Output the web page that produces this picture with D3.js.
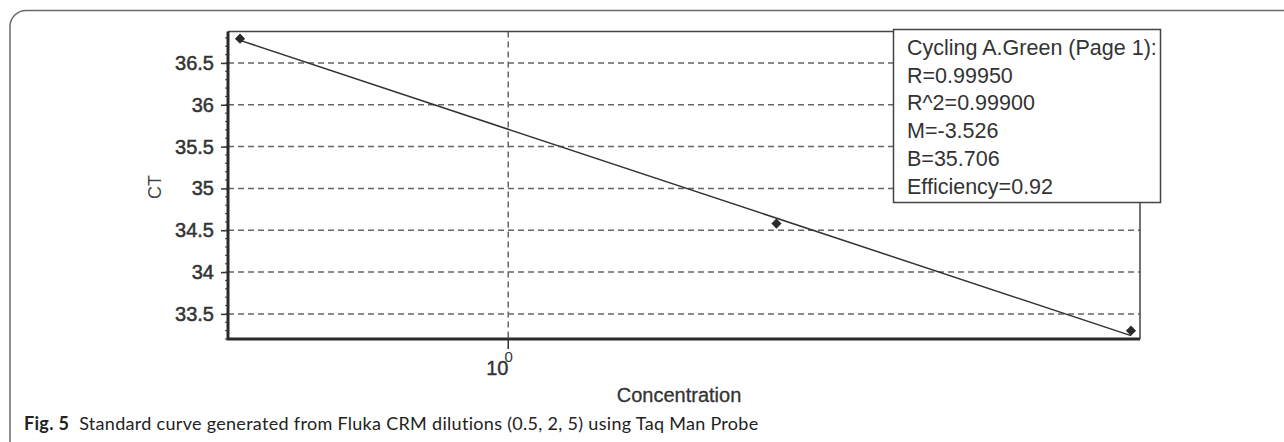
<!DOCTYPE html>
<html>
<head>
<meta charset="utf-8">
<script src="https://cdn.jsdelivr.net/npm/d3@7"></script>
<style>
  body { margin: 0; background: #fff; }
  svg { display: block; }
  text { font-family: "Liberation Sans", Arial, sans-serif; }
</style>
</head>
<body>
<svg width="1284" height="442"></svg>
<script>
// Standard curve points (concentration vs CT)
const concentrations = [0.5, 2, 5];
const ctValues = [36.79, 34.58, 33.30];

// Fitted line end points
const fitConc = [0.5, 5];
const fitCt = [36.77, 33.24];

// Axis ticks
const yTicks = [33.5, 34, 34.5, 35, 35.5, 36, 36.5];
const yMinorTicks = d3.range(332, 369).map(d => d / 10);
const xTicks = [1];

// Legend text
const legendLines = ["Cycling A.Green (Page 1):", "R=0.99950", "R^2=0.99900", "M=-3.526", "B=35.706", "Efficiency=0.92"];

let svg = d3.select("svg");

// Plot area
let plotLeft = 228, plotRight = 1140, plotTop = 31.5, plotBottom = 339;

let x = d3.scaleLog().domain([0.4847, 5.118]).range([plotLeft, plotRight]);
let y = d3.scaleLinear().domain([33.2, 36.876]).range([plotBottom, plotTop]);

// Outer frame with rounded top-left corner
svg.append("path")
    .attr("d", "M10,442 V26 A16,16 0 0 1 26,10.5 H1284")
    .attr("fill", "none")
    .attr("stroke", "#6a6a6a")
    .attr("stroke-width", 1.5);

// Horizontal dashed grid lines
svg.append("g")
    .selectAll("line")
    .data(yTicks)
    .enter().append("line")
    .attr("x1", plotLeft)
    .attr("x2", plotRight)
    .attr("y1", d => y(d))
    .attr("y2", d => y(d))
    .attr("stroke", "#666")
    .attr("stroke-width", 1.5)
    .attr("stroke-dasharray", "6,4");

// Vertical dashed grid line at 10^0
svg.append("g")
    .selectAll("line")
    .data(xTicks)
    .enter().append("line")
    .attr("x1", d => x(d))
    .attr("x2", d => x(d))
    .attr("y1", plotTop)
    .attr("y2", plotBottom)
    .attr("stroke", "#666")
    .attr("stroke-width", 1.5)
    .attr("stroke-dasharray", "6,4");

// Thin top and right border
svg.append("path")
    .attr("d", `M${plotLeft},${plotTop} H${plotRight} V${plotBottom}`)
    .attr("fill", "none")
    .attr("stroke", "#444")
    .attr("stroke-width", 1.5);

// Y axis with major ticks
let yAxis = svg.append("g")
    .attr("transform", `translate(${plotLeft},0)`)
    .call(d3.axisLeft(y).tickValues(yTicks).tickSize(7).tickPadding(7).tickFormat(d3.format("")));
yAxis.select(".domain").remove();
yAxis.selectAll(".tick line").attr("stroke", "#333").attr("stroke-width", 1.5);
yAxis.selectAll(".tick text")
    .attr("font-size", 20)
    .attr("fill", "#333")
    .attr("stroke", "#333")
    .attr("stroke-width", 0.5)
    .attr("font-family", "Liberation Sans, Arial, sans-serif");

// Minor ticks on the y axis
svg.append("g")
    .selectAll("line")
    .data(yMinorTicks)
    .enter().append("line")
    .attr("x1", plotLeft - 3)
    .attr("x2", plotLeft)
    .attr("y1", d => y(d))
    .attr("y2", d => y(d))
    .attr("stroke", "#555")
    .attr("stroke-width", 1.2);

// X axis tick at 10^0
svg.append("g")
    .selectAll("line")
    .data(xTicks)
    .enter().append("line")
    .attr("x1", d => x(d))
    .attr("x2", d => x(d))
    .attr("y1", plotBottom)
    .attr("y2", plotBottom + 10)
    .attr("stroke", "#333")
    .attr("stroke-width", 1.5);

// Tick label "10" with the exponent as a superscript
let xLabel = svg.append("g").selectAll("text")
    .data(xTicks)
    .enter().append("text")
    .attr("x", d => x(d) - 22)
    .attr("y", 375)
    .attr("font-size", 20)
    .attr("fill", "#333")
    .attr("stroke", "#333")
    .attr("stroke-width", 0.4);
xLabel.append("tspan").text("10");
xLabel.append("tspan")
    .attr("dx", -4)
    .attr("dy", -13)
    .attr("font-size", 15)
    .attr("stroke-width", 0)
    .text(d => Math.round(Math.log10(d)));

// Thick left and bottom axis lines
svg.append("path")
    .attr("d", `M${plotLeft},${plotTop} V${plotBottom} H${plotRight}`)
    .attr("fill", "none")
    .attr("stroke", "#2a2a2a")
    .attr("stroke-width", 3);

// Fitted standard curve
let fitData = fitConc.map((c, i) => ({conc: c, ct: fitCt[i]}));
let valueline = d3.line()
    .x(d => x(d.conc))
    .y(d => y(d.ct));
svg.append("path")
    .datum(fitData)
    .attr("fill", "none")
    .attr("stroke", "#333")
    .attr("stroke-width", 1.5)
    .attr("d", valueline);

// Diamond markers
let pts = concentrations.map((c, i) => ({conc: c, ct: ctValues[i]}));
svg.append("g")
    .selectAll("path")
    .data(pts)
    .enter().append("path")
    .attr("d", d3.symbol(d3.symbolSquare, 52))
    .attr("transform", d => `translate(${x(d.conc)},${y(d.ct)}) rotate(45)`)
    .attr("fill", "#2a2a2a");

// Axis titles
svg.append("text")
    .attr("transform", "translate(161,187) rotate(-90)")
    .attr("text-anchor", "middle")
    .attr("font-size", 18)
    .attr("fill", "#444")
    .text("CT");

svg.append("text")
    .attr("x", 679)
    .attr("y", 402)
    .attr("text-anchor", "middle")
    .attr("font-size", 20)
    .attr("fill", "#333")
    .attr("stroke", "#333")
    .attr("stroke-width", 0.3)
    .text("Concentration");

// Legend box
let legend = svg.append("g");
legend.append("rect")
    .attr("x", 893.5)
    .attr("y", 29.5)
    .attr("width", 267)
    .attr("height", 173)
    .attr("fill", "#fff")
    .attr("stroke", "#444")
    .attr("stroke-width", 1.5);
legend.selectAll("text")
    .data(legendLines)
    .enter().append("text")
    .attr("x", 907)
    .attr("y", (d, i) => 55 + i * 27.7)
    .attr("font-size", 21.5)
    .attr("fill", "#333")
    .text(d => d);

// Figure caption
let caption = svg.append("text")
    .attr("x", 24)
    .attr("y", 430)
    .attr("font-size", 18)
    .attr("letter-spacing", 0.3)
    .attr("fill", "#222")
    .style("font-family", "Lato, 'Open Sans', sans-serif");
caption.append("tspan")
    .attr("font-weight", "bold")
    .text("Fig. 5");
caption.append("tspan")
    .attr("dx", 10)
    .text("Standard curve generated from Fluka CRM dilutions (0.5, 2, 5) using Taq Man Probe");
</script>
</body>
</html>
